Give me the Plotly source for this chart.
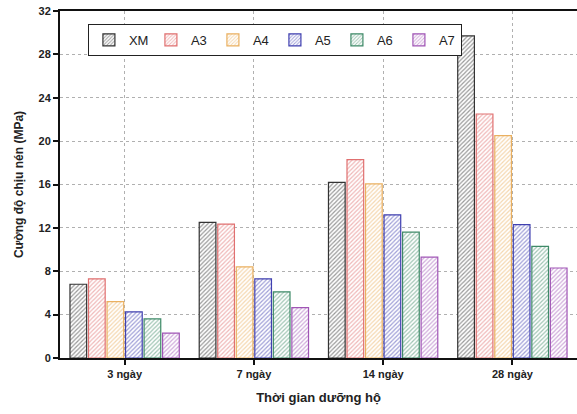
import plotly.graph_objects as go

categories = ["3 ngày", "7 ngày", "14 ngày", "28 ngày"]
series_names = ["XM", "A3", "A4", "A5", "A6", "A7"]
xm = [6.8, 12.5, 16.2, 29.7]
a3 = [7.3, 12.35, 18.3, 22.5]
a4 = [5.2, 8.4, 16.05, 20.5]
a5 = [4.25, 7.3, 13.2, 12.3]
a6 = [3.6, 6.1, 11.6, 10.3]
a7 = [2.3, 4.65, 9.3, 8.3]
values = [xm, a3, a4, a5, a6, a7]
colors = ["#333333", "#e07070", "#eab060", "#4040b0", "#3f8a68", "#a055b5"]
y_ticks = [0, 4, 8, 12, 16, 20, 24, 28, 32]

fig = go.Figure()
for name, vals, c in zip(series_names, values, colors):
    fig.add_trace(go.Bar(
        x=categories, y=vals, name=name,
        marker=dict(
            color="white",
            line=dict(color=c, width=1.2),
            pattern=dict(shape="/", fgcolor=c, bgcolor="white", size=3, solidity=0.4, fillmode="overlay"),
        ),
    ))

font_family = "Liberation Sans, Arial, sans-serif"
fig.update_layout(
    width=577, height=414,
    margin=dict(l=60, r=0, t=11, b=56),
    plot_bgcolor="white", paper_bgcolor="white",
    barmode="group", bargap=0.14, bargroupgap=0.1,
    font=dict(family=font_family, color="#222"),
    legend=dict(
        orientation="h", x=0.054, y=0.963, xanchor="left", yanchor="top",
        bordercolor="#222", borderwidth=1, bgcolor="white",
        font=dict(size=13, family=font_family), itemwidth=30, tracegroupgap=0,
        entrywidth=17, entrywidthmode="pixels",
    ),
    xaxis=dict(
        showline=True, linecolor="#111", linewidth=2, mirror=True,
        ticks="outside", ticklen=5, tickwidth=2, tickcolor="#111",
        showgrid=True, gridcolor="#b0b0b0", griddash="dot", gridwidth=1,
        tickfont=dict(size=11, family=font_family, color="#222", weight="bold"),
        title=dict(text="<b>Thời gian dưỡng hộ</b>", font=dict(size=13, family=font_family), standoff=14),
    ),
    yaxis=dict(
        range=[0, 32], tickvals=y_ticks,
        showline=True, linecolor="#111", linewidth=2,
        ticks="outside", ticklen=5, tickwidth=2, tickcolor="#111",
        showgrid=True, gridcolor="#b0b0b0", griddash="dot", gridwidth=1, zeroline=False,
        tickfont=dict(size=11, family=font_family, color="#222", weight="bold"),
        title=dict(text="<b>Cường độ chịu nén (MPa)</b>", font=dict(size=12, family=font_family), standoff=12),
    ),
)
fig.write_html("out.html")
